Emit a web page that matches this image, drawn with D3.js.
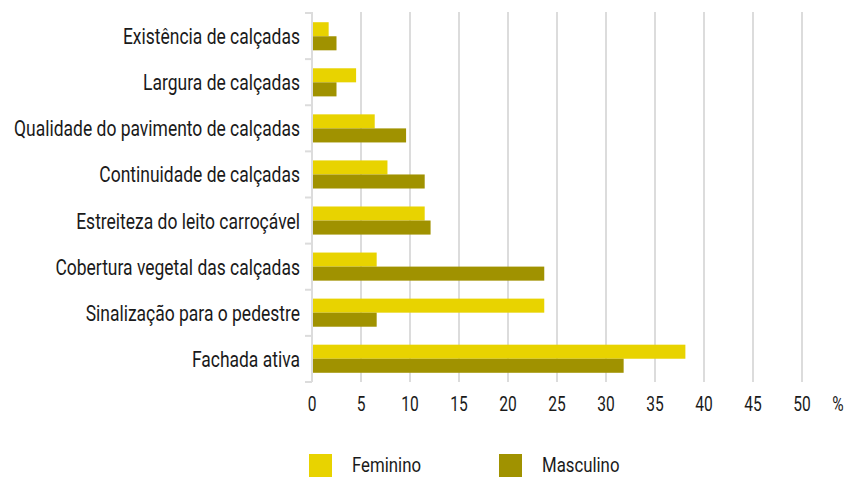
<!DOCTYPE html>
<html><head><meta charset="utf-8">
<script src="https://cdn.jsdelivr.net/npm/d3@7"></script>
<style>
body{margin:0;background:#fff;}
text{font-family:Roboto,"DejaVu Sans",sans-serif;fill:#1a1a1a;}
</style></head>
<body><svg id="c" width="850" height="477"></svg>
<script>
const categories = ["Existência de calçadas","Largura de calçadas","Qualidade do pavimento de calçadas","Continuidade de calçadas","Estreiteza do leito carroçável","Cobertura vegetal das calçadas","Sinalização para o pedestre","Fachada ativa"];
const feminino = [1.7, 4.5, 6.4, 7.7, 11.5, 6.6, 23.7, 38.1];
const masculino = [2.5, 2.5, 9.6, 11.5, 12.1, 23.7, 6.6, 31.8];
const seriesNames = ["Feminino","Masculino"];
const colors = ["#E8D300","#A09200"];
const xTicks = [0,5,10,15,20,25,30,35,40,45,50];

const svg = d3.select("#c");
const x = d3.scaleLinear().domain([0,50]).range([312,802]);
const y = d3.scaleBand().domain(categories).range([13,382]).paddingInner(0.39).paddingOuter(0.2);

function measure(txt, size){
  const t = svg.append("text").attr("font-size",size).text(txt);
  const w = t.node().getComputedTextLength(); t.remove(); return w;
}
const catSize = 22, tickSize = 21, legSize = 21;
const kCat = 286 / measure("Qualidade do pavimento de calçadas", catSize);
const kTick = 17.5 / measure("50", tickSize);
const kLeg = 69 / measure("Feminino", legSize);

function label(parent, tx, ty, txt, size, k, anchor){
  const g = parent.append("g").attr("transform",`translate(${tx},${ty}) scale(${k},1)`);
  g.append("text").attr("x",0).attr("y",0).attr("text-anchor",anchor).attr("font-size",size).text(txt);
}

// gridlines
svg.append("g").selectAll("line").data(xTicks.slice(1)).join("line")
  .attr("x1",d=>x(d)).attr("x2",d=>x(d)).attr("y1",12).attr("y2",382)
  .attr("stroke","#dcdcdc").attr("stroke-width",2);

// bars
const bh = y.bandwidth()/2;
const g = svg.append("g");
categories.forEach((c,i)=>{
  [feminino[i], masculino[i]].forEach((v,j)=>{
    g.append("rect").attr("x",x(0)+1).attr("y",y(c)+j*bh)
      .attr("width",x(v)-x(0)-1).attr("height",bh).attr("fill",colors[j]);
  });
});

// left axis line and boundary ticks
const bounds = [];
const step = (382-13)/categories.length;
for(let i=0;i<=categories.length;i++) bounds.push(13+i*step);
svg.append("line").attr("x1",312).attr("x2",312).attr("y1",12).attr("y2",382).attr("stroke","#dcdcdc").attr("stroke-width",2);
svg.append("g").selectAll("line").data(bounds).join("line")
  .attr("x1",305).attr("x2",312).attr("y1",d=>d).attr("y2",d=>d)
  .attr("stroke","#dcdcdc").attr("stroke-width",2);

// category labels
const cg = svg.append("g");
categories.forEach(c=> label(cg, 300, y(c)+y.bandwidth()/2+8, c, catSize, kCat, "end"));

// x tick labels
const tg = svg.append("g");
xTicks.forEach(d=> label(tg, x(d), 411, d, tickSize, kTick, "middle"));
label(tg, 838, 411, "%", tickSize, kTick, "middle");

// legend
const lx = [309, 499];
seriesNames.forEach((n,i)=>{
  svg.append("rect").attr("x",lx[i]).attr("y",454).attr("width",23).attr("height",23).attr("fill",colors[i]);
  label(svg, lx[i]+43, 472, n, legSize, kLeg, "start");
});
</script></body></html>
